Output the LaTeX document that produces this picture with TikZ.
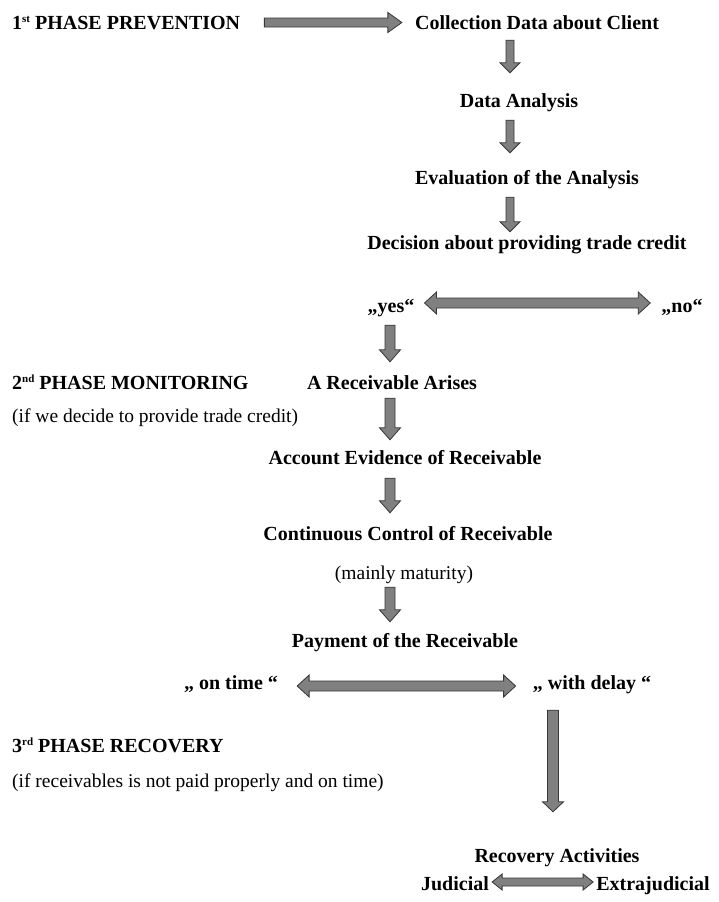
\documentclass[tikz,border=0pt]{standalone}
\usepackage{fontspec}
\setmainfont{Liberation Serif}
\usetikzlibrary{calc}
\definecolor{arrfill}{RGB}{128,128,128}
\definecolor{arrline}{RGB}{55,55,55}
\newcommand{\supx}[1]{\raisebox{6.5pt}{\fontsize{11}{11}\selectfont #1}}
\tikzset{
  btxt/.style={inner sep=0pt, text height=14pt, text depth=0pt, font=\bfseries\fontsize{20}{24}\selectfont},
  rtxt/.style={inner sep=0pt, text height=14pt, text depth=0pt, font=\fontsize{19.5}{23}\selectfont},
  arx/.store in=\arx, gapa/.store in=\arga, gapb/.store in=\argb,
  shafthw/.store in=\arbs, headhw/.store in=\arbh, headlen/.store in=\arbl, arrowdy/.store in=\ardy,
  arx=0pt, gapa=0pt, gapb=0pt, shafthw=5pt, headhw=10.5pt, headlen=11pt, arrowdy=0pt,
  blockarrow/.style={draw=arrline, fill=arrfill, line width=0.8pt, line join=miter},
  vdown/.style={blockarrow, to path={let \p1=(\tikztostart), \p2=(\tikztotarget) in
    (\arx-\arbs,\y1-\arga) -- (\arx-\arbs,\y2+\argb+\arbl) -- (\arx-\arbh,\y2+\argb+\arbl) --
    (\arx,\y2+\argb) -- (\arx+\arbh,\y2+\argb+\arbl) -- (\arx+\arbs,\y2+\argb+\arbl) --
    (\arx+\arbs,\y1-\arga) -- cycle}},
  hright/.style={blockarrow, to path={let \p1=(\tikztostart), \p2=(\tikztotarget) in
    (\x1+\arga,\y1+\ardy+\arbs) -- (\x2-\argb-\arbl,\y1+\ardy+\arbs) -- (\x2-\argb-\arbl,\y1+\ardy+\arbh) --
    (\x2-\argb,\y1+\ardy) -- (\x2-\argb-\arbl,\y1+\ardy-\arbh) -- (\x2-\argb-\arbl,\y1+\ardy-\arbs) --
    (\x1+\arga,\y1+\ardy-\arbs) -- cycle}},
  hboth/.style={blockarrow, to path={let \p1=(\tikztostart), \p2=(\tikztotarget) in
    (\x1+\arga,\y1+\ardy) -- (\x1+\arga+\arbl,\y1+\ardy+\arbh) -- (\x1+\arga+\arbl,\y1+\ardy+\arbs) --
    (\x2-\argb-\arbl,\y1+\ardy+\arbs) -- (\x2-\argb-\arbl,\y1+\ardy+\arbh) -- (\x2-\argb,\y1+\ardy) --
    (\x2-\argb-\arbl,\y1+\ardy-\arbh) -- (\x2-\argb-\arbl,\y1+\ardy-\arbs) --
    (\x1+\arga+\arbl,\y1+\ardy-\arbs) -- (\x1+\arga+\arbl,\y1+\ardy-\arbh) -- cycle}}
}
\begin{document}
\begin{tikzpicture}[x=1pt,y=-1pt]
\fill[white] (0,0) rectangle (718,902);
\useasboundingbox (0,0) rectangle (718,902);

% phase 1
\node[btxt, anchor=west] (p1) at (12,22) {1\supx{st} PHASE PREVENTION};
\node[btxt] (col) at (537,22) {Collection Data about Client};
\node[btxt] (da) at (519,100) {Data Analysis};
\node[btxt] (ev) at (527,177) {Evaluation of the Analysis};
\node[btxt] (dec) at (527,242) {Decision about providing trade credit};
\node[btxt] (yes) at (391,305) {„yes“};
\node[btxt] (no) at (682,305) {„no“};

% phase 2
\node[btxt, anchor=west] (p2) at (12,382) {2\supx{nd} PHASE MONITORING};
\node[rtxt, anchor=west] (p2s) at (12,415) {(if we decide to provide trade credit)};
\node[btxt] (rec) at (392,382) {A Receivable Arises};
\node[btxt] (acc) at (405,457) {Account Evidence of Receivable};
\node[btxt] (cont) at (408,533) {Continuous Control of Receivable};
\node[rtxt] (mm) at (404,572) {(mainly maturity)};
\node[btxt] (pay) at (405,640) {Payment of the Receivable};
\node[btxt] (ot) at (231,682) {„ on time “};
\node[btxt] (wd) at (592,682) {„ with delay “};

% phase 3
\node[btxt, anchor=west] (p3) at (12,745) {3\supx{rd} PHASE RECOVERY};
\node[rtxt, anchor=west] (p3s) at (12,780) {(if receivables is not paid properly and on time)};
\node[btxt] (ra) at (557,855) {Recovery Activities};
\node[btxt] (jud) at (455,883) {Judicial};
\node[btxt] (ext) at (653,883) {Extrajudicial};

% arrows
\draw[hright, gapa=24pt, gapb=13pt, shafthw=4.5pt, headhw=10pt, headlen=14pt, arrowdy=-0.5pt] (p1.east) to (col.west);
\draw[vdown, arx=510pt, gapa=11pt, gapb=20pt, shafthw=4pt, headhw=10pt, headlen=10pt] (col.south) to (da.north);
\draw[vdown, arx=510pt, gapa=13pt, gapb=17pt, shafthw=4pt, headhw=10pt, headlen=10pt] (da.south) to (ev.north);
\draw[vdown, arx=510pt, gapa=13pt, gapb=3pt, shafthw=4pt, headhw=10pt, headlen=10pt] (ev.south) to (dec.north);
\draw[hboth, gapa=10pt, gapb=11pt, shafthw=5pt, headhw=11pt, headlen=12pt, arrowdy=2pt] (yes.east) to (no.west);
\draw[vdown, arx=390pt, gapa=13pt, gapb=13pt, headlen=12pt] (yes.south) to (rec.north);
\draw[vdown, arx=390pt, gapa=9pt, gapb=10pt, headlen=12pt] (rec.south) to (acc.north);
\draw[vdown, arx=390pt, gapa=14pt, gapb=13pt, headlen=12pt] (acc.south) to (cont.north);
\draw[vdown, arx=390pt, gapa=8pt, gapb=11pt, headlen=12pt] (mm.south) to (pay.north);
\draw[hboth, gapa=19pt, gapb=17pt, shafthw=5pt, headhw=11pt, headlen=12pt, arrowdy=-4pt] (ot.east) to (wd.west);
\draw[vdown, arx=553pt, gapa=21pt, gapb=36pt, shafthw=5.5pt, headhw=10.5pt, headlen=10pt] (wd.south) to (ra.north);
\draw[hboth, gapa=3pt, gapb=3pt, shafthw=4pt, headhw=8pt, headlen=10pt, arrowdy=1pt] (jud.east) to (ext.west);
\end{tikzpicture}
\end{document}
